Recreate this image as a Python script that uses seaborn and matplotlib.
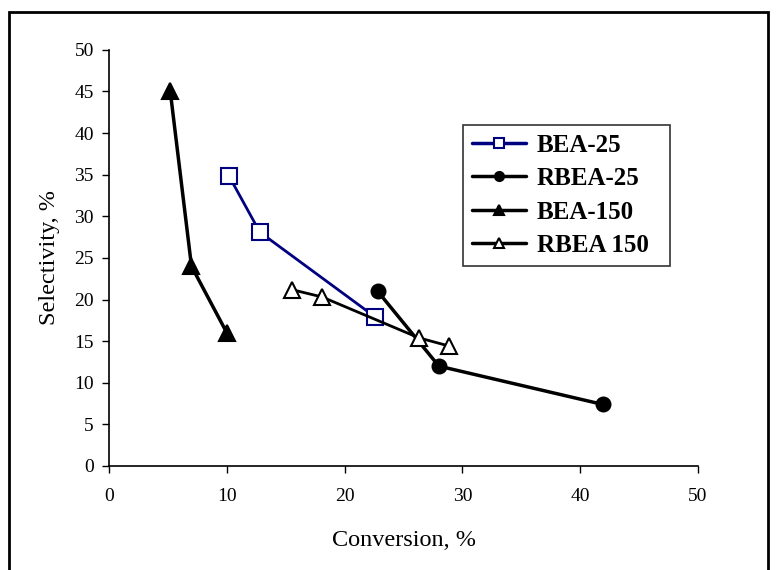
import pandas as pd
import matplotlib.pyplot as plt
import seaborn as sns
from matplotlib.patches import Rectangle

# Data
bea25_x = [10.2, 12.8, 22.6]
bea25_y = [34.8, 28.1, 17.9]
rbea25_x = [22.8, 28.0, 41.9]
rbea25_y = [21.0, 12.0, 7.4]
bea150_x = [5.2, 7.0, 10.0]
bea150_y = [45.0, 24.0, 16.0]
rbea150_x = [15.5, 18.1, 26.3, 28.9]
rbea150_y = [21.2, 20.3, 15.4, 14.4]

series = [
    ("BEA-25", bea25_x, bea25_y, "#000080", "s", "white", 12, 2.0),
    ("RBEA-25", rbea25_x, rbea25_y, "black", "o", "black", 10, 2.5),
    ("BEA-150", bea150_x, bea150_y, "black", "^", "black", 11, 2.5),
    ("RBEA 150", rbea150_x, rbea150_y, "black", "^", "white", 12, 2.0),
]

sns.set_style("ticks")
plt.rcParams["font.family"] = ["Liberation Serif", "DejaVu Serif"]
plt.rcParams["text.color"] = "black"
plt.rcParams["axes.labelcolor"] = "black"

fig = plt.figure(figsize=(7.76, 5.70), dpi=100)
ax = fig.add_axes([0.1405, 0.1825, 0.759, 0.730])

for name, xs, ys, color, marker, face, ms, lw in series:
    df = pd.DataFrame({"x": xs, "y": ys})
    sns.lineplot(data=df, x="x", y="y", ax=ax, sort=False, color=color,
                 linewidth=lw, marker=marker, markersize=ms,
                 markerfacecolor=face, markeredgecolor=color,
                 markeredgewidth=1.5, label=name)

ax.set_xlim(0, 50)
ax.set_ylim(0, 50)
ax.set_xticks(range(0, 51, 10))
ax.set_yticks(range(0, 51, 5))
ax.tick_params(axis="both", direction="out", length=5, width=1,
               labelsize=14, colors="black", pad=6)
ax.xaxis.set_tick_params(pad=11)
for s in ["top", "right"]:
    ax.spines[s].set_visible(False)
for s in ["left", "bottom"]:
    ax.spines[s].set_linewidth(1.2)
    ax.spines[s].set_color("black")
ax.set_xlabel("Conversion, %", fontsize=17.5, labelpad=18)
ax.set_ylabel("Selectivity, %", fontsize=17.5, labelpad=10)

leg = ax.legend(loc="upper left", bbox_to_anchor=(0.601, 0.483, 0.351, 0.337),
                mode="expand", frameon=True, fancybox=False, edgecolor="black",
                handlelength=2.15, borderpad=0.35, labelspacing=0.42,
                handletextpad=0.45, borderaxespad=0,
                prop={"family": "Liberation Serif", "weight": "bold", "size": 18})
leg.get_frame().set_linewidth(1.2)
for h in leg.legend_handles:
    h.set_markersize(6.5)
    h.set_linewidth(2.5)

# outer frame around the whole picture
fig.patches.append(Rectangle((0.012, -0.01), 0.978, 0.989, transform=fig.transFigure,
                             fill=False, edgecolor="black", linewidth=2))

fig.savefig("out.png", dpi=100)
